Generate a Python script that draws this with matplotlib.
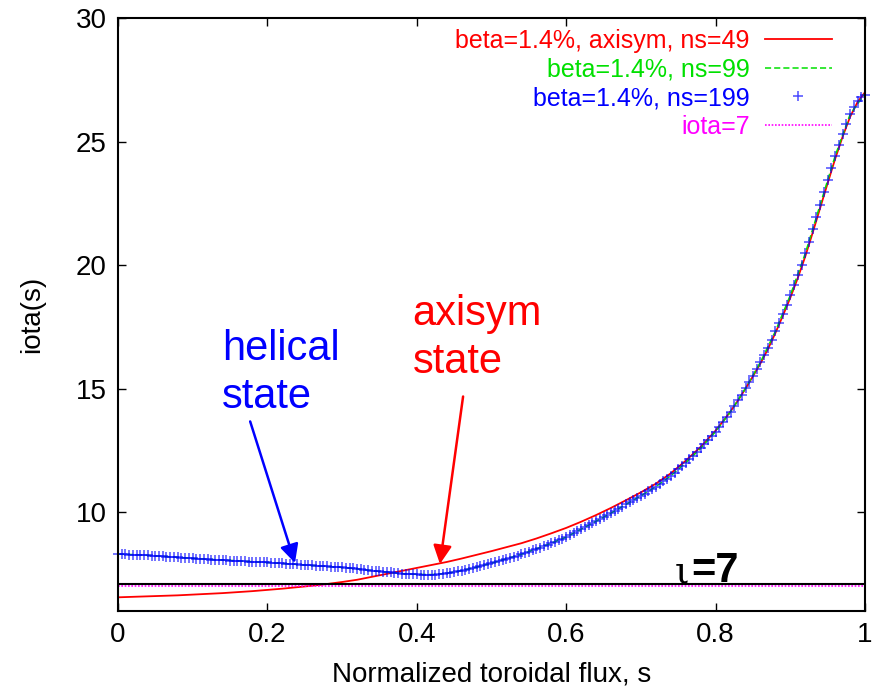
import matplotlib.pyplot as plt
import numpy as np

# iota profiles

# axisymmetric equilibrium, ns=49
s_axi = [0.00, 0.02, 0.04, 0.06, 0.08, 0.10, 0.12, 0.14, 0.16, 0.18,
         0.20, 0.22, 0.24, 0.26, 0.28, 0.30, 0.32, 0.34, 0.36, 0.38,
         0.40, 0.42, 0.44, 0.46, 0.48, 0.50, 0.52, 0.54, 0.56, 0.58,
         0.60, 0.62, 0.64, 0.66, 0.68, 0.70, 0.72, 0.74, 0.76, 0.78,
         0.80, 0.81, 0.82, 0.83, 0.84, 0.85, 0.86, 0.87, 0.88, 0.89,
         0.90, 0.91, 0.92, 0.93, 0.94, 0.95, 0.96, 0.97, 0.98, 0.99, 1.00]
iota_axi = [6.55, 6.57, 6.59, 6.61, 6.63, 6.66, 6.69, 6.72, 6.76, 6.80,
            6.85, 6.90, 6.96, 7.02, 7.09, 7.17, 7.26, 7.38, 7.50, 7.62,
            7.74, 7.86, 7.98, 8.12, 8.27, 8.42, 8.58, 8.74, 8.93, 9.14,
            9.36, 9.61, 9.88, 10.17, 10.48, 10.80, 11.15, 11.57, 12.08, 12.64,
            13.30, 13.68, 14.08, 14.52, 15.00, 15.50, 16.02, 16.60, 17.25, 17.95,
            18.68, 19.48, 20.35, 21.32, 22.32, 23.32, 24.30, 25.20, 26.00, 26.60, 27.00]

# helical equilibrium, ns=99
s_ns99 = np.linspace(0, 1, 51)
iota_ns99 = [8.30, 8.28, 8.25, 8.21, 8.17, 8.13, 8.09, 8.06, 8.03, 7.99,
             7.96, 7.92, 7.88, 7.84, 7.80, 7.76, 7.70, 7.63, 7.57, 7.51,
             7.48, 7.47, 7.52, 7.63, 7.77, 7.93, 8.11, 8.29, 8.51, 8.74,
             8.99, 9.31, 9.63, 9.96, 10.31, 10.66, 11.03, 11.47, 12.00, 12.58,
             13.26, 14.06, 15.01, 16.07, 17.32, 18.78, 20.47, 22.45, 24.42, 26.10,
             26.95]

# helical equilibrium, ns=199
s_ns199 = np.linspace(0, 1, 201)
iota_ns199 = [
    8.30, 8.30, 8.29, 8.28, 8.28, 8.27, 8.26, 8.25, 8.25, 8.24,
    8.23, 8.22, 8.21, 8.20, 8.19, 8.18, 8.17, 8.16, 8.15, 8.14,
    8.13, 8.12, 8.11, 8.10, 8.09, 8.08, 8.07, 8.06, 8.06, 8.05,
    8.04, 8.03, 8.03, 8.02, 8.01, 8.00, 7.99, 7.98, 7.97, 7.96,
    7.96, 7.95, 7.94, 7.93, 7.92, 7.91, 7.90, 7.89, 7.88, 7.87,
    7.86, 7.85, 7.84, 7.83, 7.82, 7.81, 7.80, 7.79, 7.78, 7.77,
    7.76, 7.75, 7.73, 7.72, 7.70, 7.69, 7.67, 7.65, 7.63, 7.62,
    7.60, 7.59, 7.57, 7.56, 7.54, 7.53, 7.51, 7.50, 7.49, 7.48,
    7.48, 7.47, 7.47, 7.47, 7.47, 7.47, 7.48, 7.50, 7.52, 7.54,
    7.57, 7.60, 7.63, 7.66, 7.70, 7.73, 7.77, 7.81, 7.85, 7.89,
    7.93, 7.97, 8.02, 8.06, 8.11, 8.15, 8.20, 8.24, 8.29, 8.34,
    8.40, 8.45, 8.51, 8.56, 8.62, 8.68, 8.74, 8.80, 8.86, 8.93,
    9.00, 9.07, 9.15, 9.23, 9.31, 9.39, 9.47, 9.55, 9.63, 9.71,
    9.79, 9.87, 9.96, 10.04, 10.13, 10.22, 10.31, 10.40, 10.49, 10.57,
    10.66, 10.75, 10.84, 10.93, 11.03, 11.13, 11.24, 11.35, 11.47, 11.60,
    11.73, 11.86, 12.00, 12.14, 12.28, 12.43, 12.58, 12.74, 12.91, 13.08,
    13.26, 13.45, 13.65, 13.85, 14.06, 14.28, 14.52, 14.76, 15.01, 15.27,
    15.53, 15.80, 16.07, 16.36, 16.66, 16.98, 17.32, 17.67, 18.03, 18.40,
    18.78, 19.18, 19.59, 20.02, 20.47, 20.95, 21.45, 21.95, 22.45, 22.95,
    23.45, 23.94, 24.42, 24.88, 25.32, 25.73, 26.10, 26.40, 26.65, 26.82,
    26.90]

iota_ref = 7
xticks = [0, 0.2, 0.4, 0.6, 0.8, 1]
xtick_labels = ["0", "0.2", "0.4", "0.6", "0.8", "1"]
yticks = [10, 15, 20, 25, 30]

plt.rcParams["font.family"] = ["Liberation Sans", "DejaVu Sans"]
narrow = ["Liberation Sans Narrow", "Liberation Sans", "DejaVu Sans"]

fig = plt.figure(figsize=(8.8, 6.95), dpi=100)
ax = fig.add_axes([0.134, 0.121, 0.849, 0.853])

ax.plot(s_axi, iota_axi, color="red", lw=1.3, label="beta=1.4%, axisym, ns=49")
ax.plot(s_ns99, iota_ns99, color="#00e000", lw=1.1, ls=(0, (4, 2)),
        label="beta=1.4%, ns=99")
ax.plot(s_ns199, iota_ns199, ls="none", marker="+", ms=7, mew=1.1,
        color="blue", alpha=0.7, clip_on=False, label="beta=1.4%, ns=199")
ax.axhline(iota_ref, color="magenta", lw=1.2, ls=(0, (1, 1)), label="iota=7")
# resonance line drawn by hand in the original
ax.axhline(iota_ref + 0.08, color="black", lw=1.5)

# annotations
ax.annotate("", xy=(0.237, 7.94), xytext=(0.177, 13.67),
            arrowprops=dict(arrowstyle="-|>", color="blue", lw=1.8,
                            mutation_scale=28, shrinkA=0, shrinkB=0))
ax.annotate("", xy=(0.431, 7.90), xytext=(0.462, 14.68),
            arrowprops=dict(arrowstyle="-|>", color="red", lw=1.8,
                            mutation_scale=28, shrinkA=0, shrinkB=0))
ax.text(0.139, 16.17, "helical", color="blue", fontsize=30, va="baseline")
ax.text(0.139, 14.21, "state", color="blue", fontsize=30, va="baseline")
ax.text(0.3945, 17.58, "axisym", color="red", fontsize=30, va="baseline")
ax.text(0.3945, 15.63, "state", color="red", fontsize=30, va="baseline")
ax.text(0.7456, 7.17, "\u03b9", fontsize=27, family="DejaVu Serif", va="baseline")
ax.text(0.767, 7.17, "=7", fontsize=30, fontweight="bold", va="baseline")

ax.set_xlim(0, 1)
ax.set_ylim(6, 30)
ax.set_xticks(xticks)
ax.set_xticklabels(xtick_labels, family=narrow)
ax.set_yticks(yticks)
ax.tick_params(direction="in", top=True, right=True, length=6, width=1,
               labelsize=20, pad=8)
for sp in ax.spines.values():
    sp.set_linewidth(1.5)

ax.set_xlabel("Normalized toroidal flux, s", fontsize=20, family=narrow, labelpad=10)
ax.set_ylabel("iota(s)", fontsize=20, labelpad=22)

ax.legend(loc="upper right", bbox_to_anchor=(0.956, 0.982), frameon=False,
          markerfirst=False, labelcolor="linecolor", fontsize=18,
          handlelength=2.7, handletextpad=0.6, labelspacing=0.19,
          borderpad=0, borderaxespad=0, numpoints=1)

fig.savefig("out.png", dpi=100)
